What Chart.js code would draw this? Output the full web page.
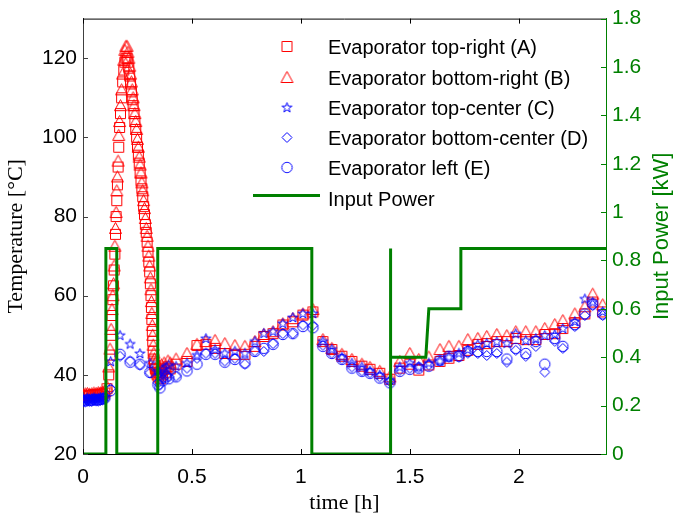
<!DOCTYPE html>
<html>
<head>
<meta charset="utf-8">
<title>Evaporator temperatures and input power</title>
<script src="https://cdn.jsdelivr.net/npm/chart.js@4.4.1/dist/chart.umd.min.js"></script>
<style>
  html, body { margin: 0; padding: 0; background: #fff; }
  canvas { display: block; }
</style>
</head>
<body>
<canvas id="tempChart" width="674" height="517"></canvas>
<script>
// values (time in hours, temperature in degC, power in kW)
const timeRed = [
  0, 0.01, 0.02, 0.03, 0.04, 0.05, 0.06, 0.07, 0.08, 0.09, 0.10,
  0.110, 0.118, 0.124, 0.129, 0.133, 0.137, 0.140, 0.143, 0.146, 0.149, 0.152,
  0.155, 0.158, 0.161, 0.164, 0.168, 0.172, 0.177, 0.182, 0.187, 0.192, 0.197,
  0.202, 0.206, 0.210, 0.214, 0.218, 0.222, 0.226, 0.230, 0.234, 0.238, 0.242,
  0.246, 0.250, 0.254, 0.258, 0.262, 0.266, 0.270, 0.274, 0.278, 0.282, 0.286,
  0.290, 0.294, 0.298, 0.302, 0.306, 0.309, 0.312, 0.314, 0.316, 0.318, 0.320,
  0.322, 0.325, 0.328, 0.332, 0.336, 0.340,
  0.345, 0.350, 0.355, 0.360, 0.365, 0.372, 0.380, 0.390, 0.400,
  0.427, 0.477, 0.523, 0.564, 0.606, 0.651, 0.697, 0.743, 0.789, 0.830, 0.872,
  0.917, 0.963, 1.009, 1.055,
  1.101, 1.142, 1.188, 1.234, 1.280, 1.317, 1.362, 1.408, 1.454, 1.500, 1.541,
  1.587, 1.638, 1.679, 1.725, 1.766, 1.812, 1.853, 1.899, 1.945, 1.986, 2.032,
  2.078, 2.119, 2.165, 2.202, 2.257, 2.303, 2.339, 2.385
];
const tempA = [
  34.6, 34.8, 34.9, 34.7, 34.8, 35.0, 34.9, 35.1, 35.0, 35.2, 35.4,
  36.5, 40, 45, 50, 55, 59, 62.5, 66.5, 70.5, 75.5, 80,
  84, 88, 92.5, 97.5, 102.5, 106, 110, 114, 117, 119, 120,
  120, 119, 117.5, 115.5, 113.5, 111.5, 109.5, 108, 106, 104, 102,
  100, 97.5, 95.5, 93.5, 91, 89, 87, 85, 82.5, 80.5, 78,
  76, 73.5, 71, 68.5, 66, 63, 60, 57, 54, 51, 48.5,
  46, 44, 42.5, 41.5, 40.5, 40,
  39.5, 40.5, 39, 41, 40, 41.5, 40.5, 42, 41.5,
  42.7, 43.4, 47.4, 47.7, 46.7, 45.4, 45.2, 45.2, 47.2, 49.7, 50.4,
  52.6, 53.4, 55.1, 55.9,
  48.4, 46.4, 44.7, 43.4, 42.2, 41.4, 40.4, 38.9, 41.7, 42.7, 41.2,
  42.5, 43.4, 44.2, 44.9, 46.2, 47.7, 47.9, 48.4, 48.4, 49.2, 48.9,
  48.9, 50.2, 50.4, 51.7, 53.2, 55.4, 58.4, 55.9
];
const tempB = [
  35.0, 35.2, 35.3, 35.1, 35.2, 35.4, 35.3, 35.5, 35.4, 35.6, 35.8,
  37, 42, 46.5, 51.5, 56.5, 60, 63, 67.5, 72.5, 77, 81,
  86.5, 90, 94, 100.5, 104, 108, 112, 116, 119.5, 122, 123,
  123, 121.5, 120, 118, 116, 114, 112, 110, 108, 106, 104,
  102, 99.5, 97.5, 95, 93, 91, 88.5, 86.5, 84, 82, 79.5,
  77, 75, 72.5, 70, 67.5, 64.5, 61.5, 58.5, 55.5, 52.5, 50,
  47.5, 45.5, 44, 43, 42, 41.5,
  41, 42, 40.5, 42.5, 41.5, 43, 42, 43.5, 43,
  44, 45.4, 47.7, 48.4, 48.7, 47.9, 47.4, 47.2, 48.4, 50.2, 50.9,
  52.9, 54.2, 55.4, 56.5,
  48.9, 46.7, 45.2, 43.9, 42.7, 41.9, 40.9, 39.5, 43.4, 45.4, 43.9,
  44.5, 46.4, 47.2, 47.2, 48.9, 49.2, 49.7, 50.2, 49.9, 50.9, 50.9,
  50.9, 51.7, 52.7, 53.7, 55.4, 57.2, 60.4, 57.7
];

const timeBlue = [
  0, 0.01, 0.02, 0.03, 0.04, 0.05, 0.06, 0.07, 0.08, 0.09, 0.10,
  0.127, 0.170, 0.216, 0.261, 0.307, 0.344, 0.353, 0.367, 0.381, 0.394,
  0.427, 0.477, 0.523, 0.564, 0.606, 0.651, 0.697, 0.743, 0.789, 0.830, 0.872,
  0.917, 0.963, 1.009, 1.055,
  1.101, 1.142, 1.188, 1.234, 1.280, 1.317, 1.362, 1.408, 1.454, 1.500, 1.541,
  1.587, 1.638, 1.679, 1.725, 1.766, 1.812, 1.853, 1.899, 1.945, 1.986, 2.032,
  2.078, 2.119, 2.165, 2.202, 2.257, 2.303, 2.339, 2.385
];
const tempC = [
  34.0, 33.8, 34.1, 33.9, 34.0, 34.2, 34.0, 34.1, 34.3, 34.2, 34.5,
  43.4, 50, 47.8, 45.4, 43, 41, 40, 41.5, 42, 42.5,
  42.2, 43, 45, 49.2, 46.4, 45.5, 46, 45.5, 48.5, 50.5, 51,
  53, 54.5, 55.5, 55.5,
  48.5, 46.5, 44.5, 43, 42, 41, 40, 38.7, 42, 43, 42,
  43, 43.5, 44.5, 45.5, 46.4, 47.7, 48, 48.4, 48, 50.4, 48.7,
  49.2, 50, 50.2, 51.7, 53.5, 59.2, 58.4, 56
];
const tempD = [
  33.3, 33.2, 33.5, 33.4, 33.3, 33.6, 33.5, 33.4, 33.6, 33.7, 33.9,
  36.5, 44.7, 43.5, 42.5, 40.5, 38, 37.5, 39, 40, 39.5,
  39.7, 41.7, 44.2, 45.5, 45.5, 43.5, 44.2, 42.7, 46, 45.9, 47.9,
  50.4, 50.4, 52.6, 52.5,
  47.5, 45.5, 44, 42, 41, 40.5, 39.5, 38.3, 41.2, 41.7, 42,
  42.5, 43.5, 44.5, 44.5, 45.5, 45.4, 44.9, 45.4, 43.2, 46.2, 44.7,
  47.2, 40.7, 48.5, 46.7, 52.2, 55, 57.5, 55
];
const tempE = [
  33.5, 33.4, 33.7, 33.5, 33.6, 33.8, 33.6, 33.7, 33.8, 33.9, 34.1,
  36, 45.2, 43.2, 42.7, 40.6, 37.5, 36.7, 38.5, 39.5, 39,
  39.5, 41, 42.7, 45.2, 45.2, 43.2, 43.9, 43, 45.9, 46.7, 47.7,
  50.2, 50.4, 52.2, 51.9,
  47.2, 45.4, 43.9, 41.7, 40.9, 40.4, 39.2, 38, 40.9, 41.4, 41.7,
  42.2, 43.7, 44.7, 44.7, 45.9, 45.9, 45.9, 45.9, 44, 46.7, 45.4,
  48.4, 42.7, 49.2, 47.2, 52.7, 55.4, 57.9, 55.4
];

const powerTime = [0, 0.105, 0.105, 0.155, 0.155, 0.343, 0.343, 1.050, 1.050, 1.410, 1.410, 1.413, 1.573, 1.587, 1.734, 1.734, 2.4];
const powerKW   = [0, 0,     0.85,  0.85,  0,     0,     0.85,  0.85,  0,     0,     0.85,  0.4,   0.4,   0.6,   0.6,   0.85,  0.85];

const timeTicks = [0, 0.5, 1, 1.5, 2];
const tempTicks = [20, 40, 60, 80, 100, 120];
const powerTicks = [0, 0.2, 0.4, 0.6, 0.8, 1, 1.2, 1.4, 1.6, 1.8];

const labels = [
  'Evaporator top-right (A)',
  'Evaporator bottom-right (B)',
  'Evaporator top-center (C)',
  'Evaporator bottom-center (D)',
  'Evaporator left (E)',
  'Input Power'
];

const RED = '#ff0000';
const BLUE = '#0000ff';
const GREEN = '#008000';
const SANS = '"Liberation Sans", Arial, sans-serif';
const SERIF = '"Liberation Serif", "Times New Roman", serif';

// open matlab-like markers drawn into little canvases
function makeMarker(shape, color) {
  const c = document.createElement('canvas');
  c.width = 15; c.height = 15;
  const g = c.getContext('2d');
  g.strokeStyle = color;
  g.lineWidth = 1;
  g.beginPath();
  if (shape === 'square') {
    g.rect(2.5, 2.5, 10, 10);
  } else if (shape === 'triangle') {
    g.moveTo(7.5, 1.5); g.lineTo(13.5, 12.5); g.lineTo(1.5, 12.5); g.closePath();
  } else if (shape === 'diamond') {
    g.moveTo(7.5, 2.5); g.lineTo(12.5, 7.5); g.lineTo(7.5, 12.5); g.lineTo(2.5, 7.5); g.closePath();
  } else if (shape === 'circle') {
    g.arc(7.5, 7.5, 5.2, 0, Math.PI * 2);
  } else if (shape === 'star') {
    for (let k = 0; k < 10; k++) {
      const r = k % 2 ? 2.1 : 5.2;
      const a = -Math.PI / 2 + k * Math.PI / 5;
      const px = 7.5 + r * Math.cos(a), py = 7.8 + r * Math.sin(a);
      if (k) g.lineTo(px, py); else g.moveTo(px, py);
    }
    g.closePath();
  }
  g.stroke();
  return c;
}

function pairs(xs, ys) {
  return xs.map((x, i) => ({ x: x, y: ys[i] }));
}

function tempSet(i, xs, ys, marker, order) {
  return {
    type: 'scatter',
    label: labels[i],
    data: pairs(xs, ys),
    pointStyle: marker,
    pointRadius: 5,
    pointHoverRadius: 5,
    showLine: false,
    yAxisID: 'y',
    order: order
  };
}

const markers = [
  makeMarker('square', RED),
  makeMarker('triangle', RED),
  makeMarker('star', BLUE),
  makeMarker('diamond', BLUE),
  makeMarker('circle', BLUE)
];

// inner tick marks, top frame, right axis title and the legend box
const frameAndLegend = {
  id: 'frameAndLegend',
  afterDraw(chart) {
    const { ctx, chartArea: a, scales } = chart;
    ctx.save();
    ctx.lineWidth = 1;

    ctx.strokeStyle = '#000';
    ctx.beginPath();
    ctx.moveTo(a.left, a.top + 0.5);
    ctx.lineTo(a.right, a.top + 0.5);
    timeTicks.forEach(v => {
      const x = Math.round(scales.x.getPixelForValue(v)) + 0.5;
      ctx.moveTo(x, a.bottom); ctx.lineTo(x, a.bottom - 5);
      ctx.moveTo(x, a.top); ctx.lineTo(x, a.top + 5);
    });
    ctx.stroke();

    ctx.strokeStyle = '#404040';
    ctx.beginPath();
    tempTicks.forEach(v => {
      const y = Math.round(scales.y.getPixelForValue(v)) + 0.5;
      ctx.moveTo(a.left, y); ctx.lineTo(a.left + 5, y);
    });
    ctx.stroke();

    ctx.strokeStyle = GREEN;
    ctx.beginPath();
    powerTicks.forEach(v => {
      const y = Math.round(scales.y2.getPixelForValue(v)) + 0.5;
      ctx.moveTo(a.right, y); ctx.lineTo(a.right - 5, y);
    });
    ctx.stroke();

    // right axis title reads bottom to top
    ctx.fillStyle = GREEN;
    ctx.font = '22px ' + SANS;
    ctx.textAlign = 'center';
    ctx.textBaseline = 'middle';
    ctx.translate(662, (a.top + a.bottom) / 2);
    ctx.rotate(-Math.PI / 2);
    ctx.fillText('Input Power [kW]', 0, 0);
    ctx.restore();

    // legend
    ctx.save();
    const rowY = [48, 79, 109, 139, 169, 200.5];
    ctx.font = '20px ' + SANS;
    ctx.fillStyle = '#000';
    ctx.textAlign = 'left';
    ctx.textBaseline = 'middle';
    labels.forEach((txt, i) => {
      const y = rowY[i];
      if (i < 5) {
        const m = markers[i];
        ctx.drawImage(m, 287 - m.width / 2, y - 1.5 - m.height / 2);
      } else {
        ctx.strokeStyle = GREEN;
        ctx.lineWidth = 3;
        ctx.beginPath();
        ctx.moveTo(253, y - 5);
        ctx.lineTo(320, y - 5);
        ctx.stroke();
      }
      ctx.fillText(txt, 328, y);
    });
    ctx.restore();
  }
};

new Chart(document.getElementById('tempChart'), {
  data: {
    datasets: [
      {
        type: 'line',
        label: labels[5],
        data: pairs(powerTime, powerKW),
        borderColor: GREEN,
        borderWidth: 3,
        pointRadius: 0,
        tension: 0,
        fill: false,
        yAxisID: 'y2',
        order: 0
      },
      tempSet(0, timeRed, tempA, markers[0], 5),
      tempSet(1, timeRed, tempB, markers[1], 4),
      tempSet(2, timeBlue, tempC, markers[2], 3),
      tempSet(3, timeBlue, tempD, markers[3], 2),
      tempSet(4, timeBlue, tempE, markers[4], 1)
    ]
  },
  options: {
    responsive: false,
    animation: false,
    layout: { padding: { top: 13, left: 0, right: 0, bottom: 0 } },
    plugins: {
      legend: { display: false },
      tooltip: { enabled: false }
    },
    scales: {
      x: {
        type: 'linear',
        position: 'bottom',
        min: 0,
        max: 2.4,
        afterBuildTicks: s => { s.ticks = timeTicks.map(v => ({ value: v })); },
        afterFit: s => { s.height = 63; },
        ticks: {
          callback: v => String(v),
          font: { family: SANS, size: 21 },
          color: '#000',
          padding: 11,
          maxRotation: 0,
          autoSkip: false
        },
        grid: { drawOnChartArea: false, drawTicks: false },
        border: { color: '#000', width: 1 },
        title: {
          display: true,
          text: 'time [h]',
          font: { family: SERIF, size: 22 },
          color: '#000',
          padding: { top: 0, bottom: 1 }
        }
      },
      y: {
        type: 'linear',
        position: 'left',
        min: 20,
        max: 130,
        afterBuildTicks: s => { s.ticks = tempTicks.map(v => ({ value: v })); },
        afterFit: s => { s.width = 83; },
        ticks: {
          callback: v => String(v),
          font: { family: SANS, size: 21 },
          color: '#000',
          padding: 6,
          autoSkip: false
        },
        grid: { drawOnChartArea: false, drawTicks: false },
        border: { color: '#404040', width: 1 },
        title: {
          display: true,
          text: 'Temperature [°C]',
          font: { family: SERIF, size: 22 },
          color: '#000',
          padding: { top: 3, bottom: 0 }
        }
      },
      y2: {
        type: 'linear',
        position: 'right',
        min: 0,
        max: 1.8,
        afterBuildTicks: s => { s.ticks = powerTicks.map(v => ({ value: v })); },
        afterFit: s => { s.width = 68; },
        ticks: {
          callback: v => String(v),
          font: { family: SANS, size: 21 },
          color: GREEN,
          padding: 6,
          autoSkip: false
        },
        grid: { drawOnChartArea: false, drawTicks: false },
        border: { color: GREEN, width: 1 }
      }
    }
  },
  plugins: [frameAndLegend]
});
</script>
</body>
</html>
